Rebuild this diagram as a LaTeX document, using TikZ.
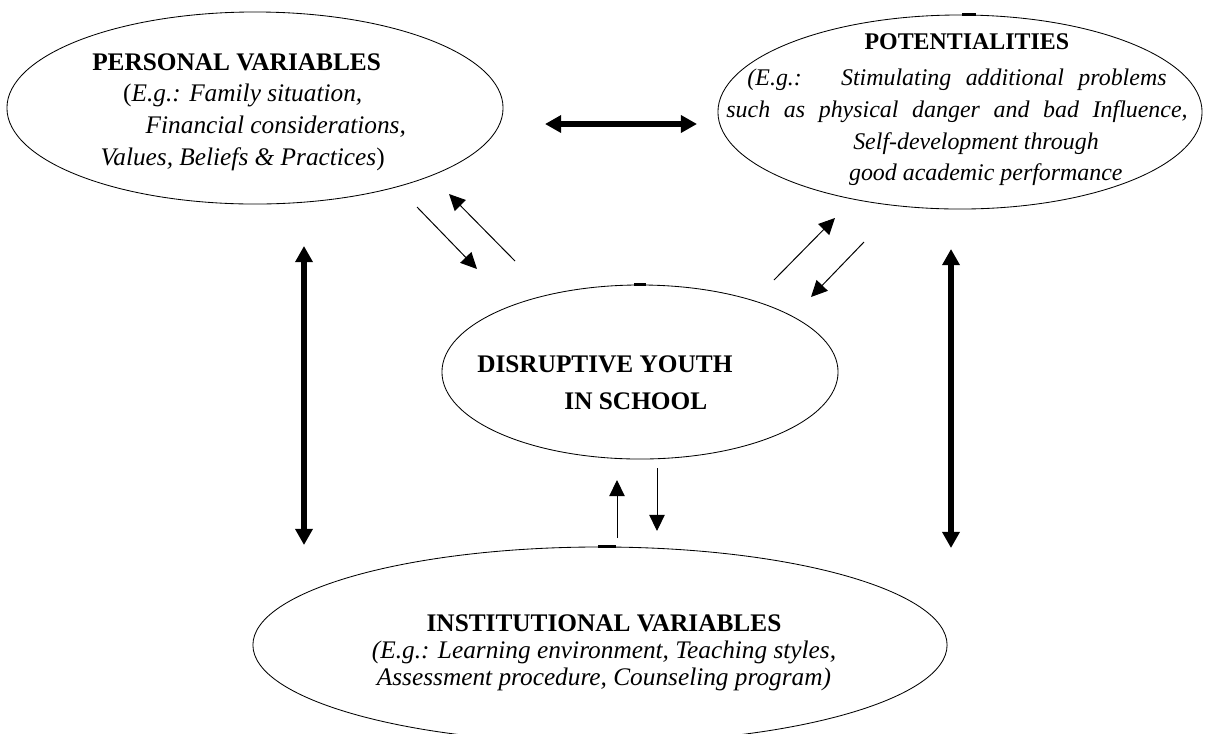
\documentclass[tikz,border=0pt]{standalone}
\usepackage{fontspec}
\setmainfont{Liberation Serif}
\usetikzlibrary{positioning,shapes.geometric,arrows.meta}

\begin{document}
\begin{tikzpicture}[x=0.025cm, y=-0.025cm,
    % Ellipse outlines and the texts set in them
    oval/.style={ellipse, draw=black, line width=0.6pt, inner sep=0pt},
    caption/.style={align=left, inner sep=0pt, font=\fontsize{18}{22.5}\selectfont},
    topmark/.style={line width=1.6pt},
    % Arrow styles
    bigarrow/.style={{Triangle[length=11.5pt,width=12pt]}-{Triangle[length=11.5pt,width=12pt]}, line width=4.6pt},
    smallarrow/.style={-{Triangle[length=11.5pt,width=11pt]}, line width=0.7pt}
]
\useasboundingbox (0,0) rectangle (1212,733);

% Four ellipses
\node[oval, minimum width=12.4cm, minimum height=4.8cm] (personal) at (255,108) {};
\node[oval, minimum width=12.1cm, minimum height=4.85cm] (potential) at (960,112) {};
\node[oval, minimum width=9.9cm, minimum height=4.35cm] (youth) at (640,372) {};
\node[oval, minimum width=17.35cm, minimum height=4.9cm] (institution) at (600,645) {};

% small dark marks on the tops of three ellipses
\draw[topmark] ([xshift=0.05cm]potential.north) -- ([xshift=0.4cm]potential.north);
\draw[topmark] ([xshift=-0.15cm]youth.north) -- ([xshift=0.15cm]youth.north);
\draw[topmark] ([xshift=-0.05cm]institution.north) -- ([xshift=0.4cm]institution.north);

% Texts in the ellipses
\node[caption, anchor=west] (personaltext) at ([shift={(-163,4)}]personal.center) {\textbf{PERSONAL VARIABLES}\\
  \hspace*{22pt}(\textit{E.g.: Family situation,}\\
  \hspace*{38pt}\textit{Financial considerations,}\\
  \hspace*{6pt}\textit{Values, Beliefs \& Practices})};
\node[caption, align=center, font=\fontsize{17}{22.5}\selectfont] (potentialtext) at ([shift={(-3,-2)}]potential.center) {\hspace*{14pt}\textbf{POTENTIALITIES}\\[3pt]
  \makebox[298pt][s]{\textit{(E.g.: \ Stimulating additional problems}}\\
  \makebox[328pt][s]{\textit{such as physical danger and bad Influence,}}\\
  \hspace*{27pt}\textit{Self-development through}\\
  \hspace*{41pt}\textit{good academic performance}};
\node[caption, anchor=west, font=\fontsize{18}{26.3}\selectfont\bfseries] (youthtext) at ([shift={(-163,11)}]youth.center) {DISRUPTIVE YOUTH\\
  \hspace*{62pt}IN SCHOOL};
\node[caption, align=center, font=\fontsize{18}{19}\selectfont] (institutiontext) at ([shift={(4,8)}]institution.center) {\textbf{INSTITUTIONAL VARIABLES}\\
  \textit{(E.g.: Learning environment, Teaching styles,}\\
  \textit{Assessment procedure, Counseling program)}};

% Free ends of the arrows
\coordinate (hleft) at (545,124);
\coordinate (hright) at (697,124);
\coordinate (vltop) at (304,246);
\coordinate (vlbot) at (304,545);
\coordinate (vrtop) at (951,249);
\coordinate (vrbot) at (951,548);
\coordinate (pa) at (417,207);
\coordinate (pb) at (477,269);
\coordinate (pc) at (515,261);
\coordinate (pd) at (449,194);
\coordinate (qa) at (774,280);
\coordinate (qb) at (835,218);
\coordinate (qc) at (864,242);
\coordinate (qd) at (811,297);
\coordinate (ia) at (617,538);
\coordinate (ib) at (617,480);
\coordinate (ic) at (657,468);
\coordinate (id) at (657,531);

% Thick two-way arrows
\draw[bigarrow] (hleft) -- (hright);
\draw[bigarrow] (vltop) -- (vlbot);
\draw[bigarrow] (vrtop) -- (vrbot);

% Thin arrows to and from the centre
\draw[smallarrow] (pa) -- (pb);
\draw[smallarrow] (pc) -- (pd);
\draw[smallarrow] (qa) -- (qb);
\draw[smallarrow] (qc) -- (qd);
\draw[smallarrow] (ia) -- (ib);
\draw[smallarrow] (ic) -- (id);

\end{tikzpicture}
\end{document}
